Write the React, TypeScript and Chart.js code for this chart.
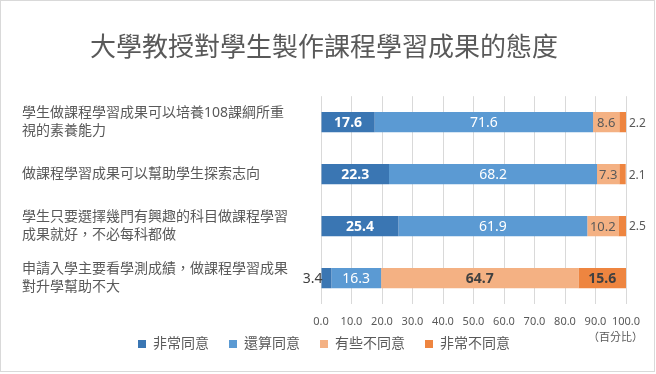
import React, { useEffect, useRef } from "react";
import { Chart, registerables } from "chart.js";

Chart.register(...registerables);

const FONT = "'Noto Sans', 'Noto Sans CJK TC', sans-serif";

const chartTitle = "大學教授對學生製作課程學習成果的態度";
const categories: string[][] = [
  ["學生做課程學習成果可以培養108課綱所重", "視的素養能力"],
  ["做課程學習成果可以幫助學生探索志向"],
  ["學生只要選擇幾門有興趣的科目做課程學習", "成果就好，不必每科都做"],
  ["申請入學主要看學測成績，做課程學習成果", "對升學幫助不大"],
];
const seriesNames = ["非常同意", "還算同意", "有些不同意", "非常不同意"];
const stronglyAgree = [17.6, 22.3, 25.4, 3.4];
const somewhatAgree = [71.6, 68.2, 61.9, 16.3];
const somewhatDisagree = [8.6, 7.3, 10.2, 64.7];
const stronglyDisagree = [2.2, 2.1, 2.5, 15.6];
const seriesColors = ["#3A76B3", "#5B9AD3", "#F4B183", "#EE8540"];
const xTicks = [0, 10, 20, 30, 40, 50, 60, 70, 80, 90, 100];
const unitLabel = "（百分比）";

const seriesValues = [stronglyAgree, somewhatAgree, somewhatDisagree, stronglyDisagree];

const framePlugin = {
  id: "frame",
  afterLayout(chart: any) {
    const lg = chart.legend;
    if (lg) {
      lg.top -= 12;
      lg.bottom -= 12;
    }
  },
  beforeDraw(chart: any) {
    const ctx = chart.ctx;
    ctx.save();
    ctx.fillStyle = "#ffffff";
    ctx.fillRect(0, 0, chart.width, chart.height);
    ctx.restore();
  },
  afterDraw(chart: any) {
    const ctx = chart.ctx;
    ctx.save();
    ctx.strokeStyle = "#d9d9d9";
    ctx.lineWidth = 1;
    ctx.strokeRect(0.5, 0.5, chart.width - 2, chart.height - 3);
    const xs = chart.scales.x;
    ctx.font = `11px ${FONT}`;
    ctx.fillStyle = "#595959";
    ctx.textAlign = "right";
    ctx.textBaseline = "middle";
    ctx.fillText(unitLabel, xs.right + 17, xs.top + 34);
    ctx.restore();
  },
};

const labelPlugin = {
  id: "barLabels",
  afterDatasetsDraw(chart: any) {
    const ctx = chart.ctx;
    ctx.save();
    ctx.textBaseline = "middle";
    chart.data.datasets.forEach((ds: any, di: number) => {
      const meta = chart.getDatasetMeta(di);
      meta.data.forEach((bar: any, i: number) => {
        const v = ds.data[i] as number;
        const agreeRow = seriesValues[0][i] + seriesValues[1][i] >= 50;
        const { x, y, base } = bar.getProps(["x", "y", "base"], true);
        const text = v.toFixed(1);
        let bold = false;
        let size = 14;
        let color = "#ffffff";
        let align: CanvasTextAlign = "center";
        let px = (x + base) / 2;
        if (di === 0) {
          bold = agreeRow;
          if (v < 5) {
            bold = false;
            color = "#404040";
            align = "right";
            px = base + 1;
          }
        } else if (di === 1) {
          bold = false;
        } else if (di === 2) {
          bold = !agreeRow;
          size = bold ? 14 : 13;
          color = bold ? "#404040" : "#595959";
        } else {
          bold = !agreeRow;
          if (v < 5) {
            size = 12;
            color = "#595959";
            align = "left";
            px = x + 3;
          } else {
            size = 14;
            color = "#404040";
          }
        }
        ctx.font = `${bold ? "bold " : ""}${size}px ${FONT}`;
        ctx.fillStyle = color;
        ctx.textAlign = align;
        ctx.fillText(text, px, y + 1);
      });
    });
    ctx.restore();
  },
};

export default function App() {
  const ref = useRef<HTMLCanvasElement | null>(null);

  useEffect(() => {
    if (!ref.current) return;
    const chart = new Chart(ref.current, {
      type: "bar",
      data: {
        labels: categories,
        datasets: seriesNames.map((name, k) => ({
          label: name,
          data: seriesValues[k],
          backgroundColor: seriesColors[k],
          borderWidth: 0,
          barPercentage: 0.39,
          categoryPercentage: 1,
        })),
      },
      options: {
        indexAxis: "y",
        responsive: false,
        animation: false,
        devicePixelRatio: 1,
        layout: { padding: { left: 22, right: 30, top: 0, bottom: 1 } },
        plugins: {
          title: {
            display: true,
            text: chartTitle,
            color: "#595959",
            font: { family: FONT, size: 26, weight: "normal" },
            padding: { top: 33, bottom: 32 },
          },
          legend: {
            position: "bottom",
            labels: {
              boxWidth: 8,
              boxHeight: 8,
              padding: 20,
              color: "#595959",
              font: { family: FONT, size: 14 },
            },
          },
          tooltip: { enabled: false },
        },
        scales: {
          x: {
            stacked: true,
            min: 0,
            max: 100,
            afterBuildTicks: (scale: any) => {
              scale.ticks = xTicks.map((v) => ({ value: v }));
            },
            afterFit: (scale: any) => {
              scale.height = 25;
            },
            grid: { color: "#d9d9d9", drawTicks: false },
            border: { display: false },
            ticks: {
              padding: 11,
              color: "#595959",
              font: { family: FONT, size: 11 },
              callback: (v: any) => Number(v).toFixed(1),
              maxRotation: 0,
              autoSkip: false,
            },
          },
          y: {
            stacked: true,
            grid: { display: false },
            border: { display: false },
            afterFit: (scale: any) => {
              scale.width = 299;
            },
            ticks: {
              crossAlign: "far",
              color: "#595959",
              font: { family: FONT, size: 14, lineHeight: 1.3 },
              autoSkip: false,
            },
          },
        },
      },
      plugins: [framePlugin, labelPlugin],
    });
    return () => chart.destroy();
  }, []);

  return (
    <div style={{ position: "fixed", left: 0, top: 0, width: 656, height: 374 }}>
      <canvas ref={ref} width={656} height={374} />
    </div>
  );
}
